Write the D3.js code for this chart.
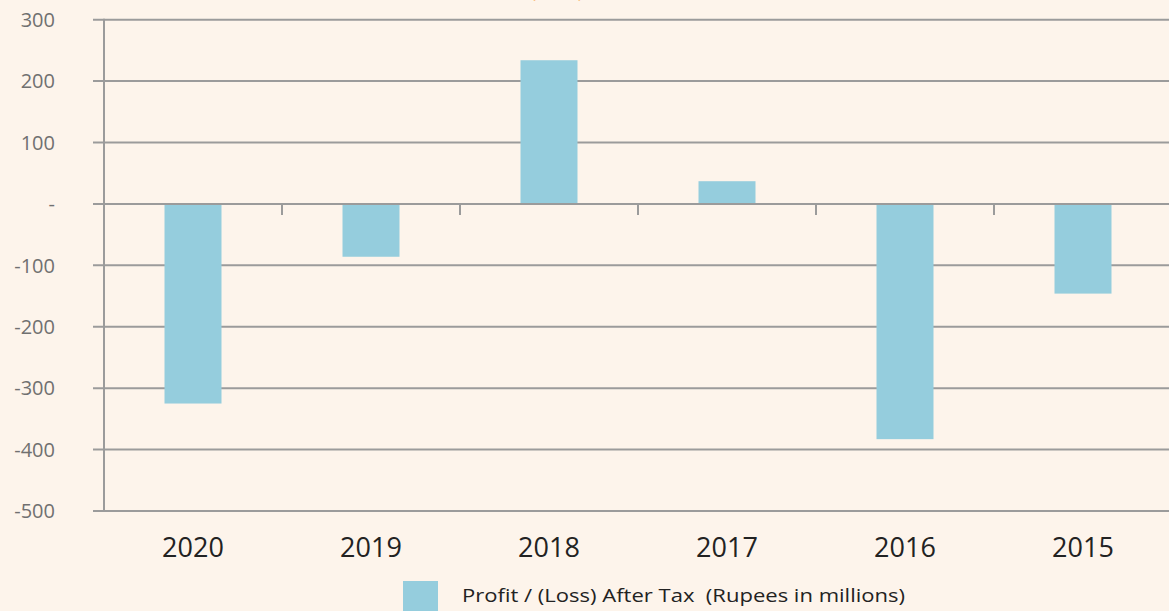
<!DOCTYPE html>
<html>
<head>
<meta charset="utf-8">
<script src="https://cdn.jsdelivr.net/npm/d3@7"></script>
<style>
  html, body { margin: 0; padding: 0; background: #fdf4eb; }
  svg { display: block; }
</style>
</head>
<body>
<svg id="chart" width="1169" height="611"></svg>
<script>
const categories = ["2020", "2019", "2018", "2017", "2016", "2015"];
const values = [-325, -86, 234, 37, -383, -146];
const yTicks = [300, 200, 100, 0, -100, -200, -300, -400, -500];
const seriesName = "Profit / (Loss) After Tax  (Rupees in millions)";
const titleText = "Profit / (Loss) After Tax";

const W = 1169, H = 611;
const mLeft = 104, mRight = 1172, mTop = 19.7, mBottom = 511;
const svg = d3.select("#chart");
const font = "'Open Sans', 'Noto Sans', sans-serif";
const grid = "#9b9b9b";

svg.append("rect").attr("width", W).attr("height", H).attr("fill", "#fdf4eb");

const xb = d3.scaleBand().domain(categories).range([mLeft, mRight]);
const y = d3.scaleLinear().domain([-500, 300]).range([mBottom, mTop]);

// gridlines
svg.append("g").selectAll("line").data(yTicks).join("line")
  .attr("x1", mLeft - 11).attr("x2", W)
  .attr("y1", d => y(d)).attr("y2", d => y(d))
  .attr("stroke", grid).attr("stroke-width", 2);

// y axis line
svg.append("line").attr("x1", mLeft).attr("x2", mLeft)
  .attr("y1", y(300) - 1).attr("y2", y(-500) + 1)
  .attr("stroke", grid).attr("stroke-width", 2);

// y labels
svg.append("g").selectAll("text").data(yTicks).join("text")
  .attr("x", 55).attr("y", d => y(d))
  .attr("dy", "0.36em")
  .attr("text-anchor", "end")
  .attr("font-family", font).attr("font-size", 20)
  .attr("fill", "#707070")
  .text(d => d === 0 ? "-" : String(d));

// bars
svg.append("g").selectAll("rect").data(values).join("rect")
  .attr("x", (d, i) => xb(categories[i]) + (xb.bandwidth() - 57) / 2)
  .attr("width", 57)
  .attr("y", d => y(Math.max(0, d)))
  .attr("height", d => Math.abs(y(d) - y(0)))
  .attr("fill", "#95cddd");

// category axis at zero with ticks downward
svg.append("line").attr("x1", mLeft).attr("x2", W)
  .attr("y1", y(0)).attr("y2", y(0))
  .attr("stroke", grid).attr("stroke-width", 2);
svg.append("g").selectAll("line").data(categories.slice(1)).join("line")
  .attr("x1", d => xb(d)).attr("x2", d => xb(d))
  .attr("y1", y(0)).attr("y2", y(0) + 11)
  .attr("stroke", grid).attr("stroke-width", 2);

// category labels
svg.append("g").selectAll("text").data(categories).join("text")
  .attr("x", d => xb(d) + xb.bandwidth() / 2)
  .attr("y", 557)
  .attr("text-anchor", "middle")
  .attr("font-family", font).attr("font-size", 27)
  .attr("fill", "#222")
  .text(d => d);

// title (cut off at top, as in the reference)
svg.append("text")
  .attr("x", 567).attr("y", -3.5)
  .attr("text-anchor", "middle")
  .attr("font-family", font).attr("font-size", 20)
  .attr("fill", "#f7941d")
  .text(titleText);

// legend
svg.append("rect").attr("x", 403).attr("y", 581).attr("width", 35).attr("height", 35).attr("fill", "#95cddd");
svg.append("text").attr("x", 462).attr("y", 602)
  .attr("font-family", font).attr("font-size", 19)
  .attr("fill", "#222")
  .style("white-space", "pre")
  .attr("textLength", 443).attr("lengthAdjust", "spacingAndGlyphs")
  .text(seriesName);
</script>
</body>
</html>
